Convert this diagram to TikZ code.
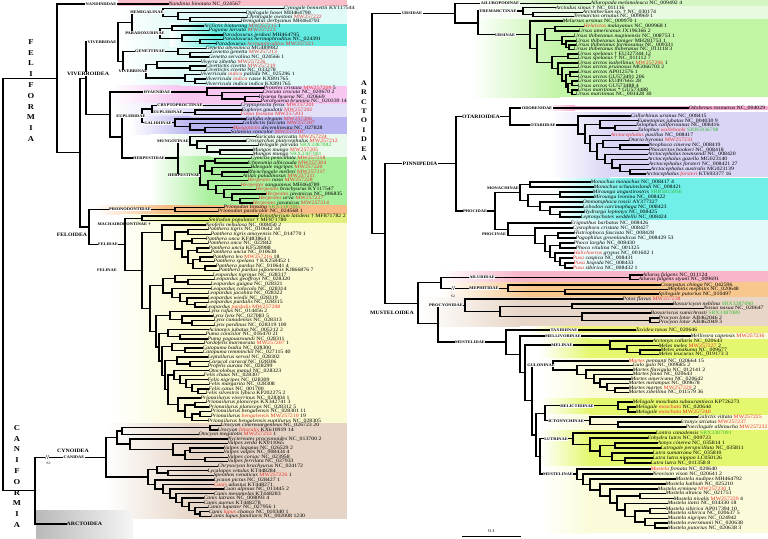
\documentclass[tikz,border=0pt]{standalone}
\usepackage{fontspec}
\setmainfont{Liberation Serif}[FakeStretch=1.14]
\usetikzlibrary{calc}
\definecolor{nandpink}{HTML}{F9BFCB}
\definecolor{vivcyan}{HTML}{DFFAF7}
\definecolor{paracyan}{HTML}{63EAE0}
\definecolor{hyapink}{HTML}{F7C7F2}
\definecolor{euplav}{HTML}{E2E0F8}
\definecolor{galpur}{HTML}{B9B5F0}
\definecolor{mungo}{HTML}{EAFAEA}
\definecolor{herpg}{HTML}{A9F09C}
\definecolor{prion}{HTML}{F6BE86}
\definecolor{mach}{HTML}{E1F07C}
\definecolor{felin}{HTML}{FBFAD3}
\definecolor{canid}{HTML}{E6D5C6}
\definecolor{ailgreen}{HTML}{D4F6C2}
\definecolor{tremg}{HTML}{E9FAE2}
\definecolor{ursg}{HTML}{C2F4A6}
\definecolor{odopink}{HTML}{F2A9CF}
\definecolor{otalav}{HTML}{DAD5F5}
\definecolor{monac}{HTML}{6FEFE7}
\definecolor{phocy}{HTML}{E2FAFA}
\definecolor{ailpink}{HTML}{F8B6C9}
\definecolor{mephor}{HTML}{F8C78E}
\definecolor{procy}{HTML}{E8D7C8}
\definecolor{taxy}{HTML}{EEF27A}
\definecolor{palye}{HTML}{FBFBDA}
\definecolor{yegr}{HTML}{E5F76E}
\definecolor{srxgreen}{HTML}{2EB82E}
\definecolor{redt}{HTML}{E8302A}
\newcommand\tipfont{\fontsize{5.1}{5.1}\selectfont}
\newcommand\cladefont{\bfseries\fontsize{3.9}{3.9}\selectfont}
\newcommand\cbigfont{\bfseries\fontsize{5.1}{5.1}\selectfont}
\newcommand\rdx[1]{\textcolor{redt}{#1}}
\newcommand\grx[1]{\textcolor{srxgreen}{#1}}
\tikzset{
 tp/.style={anchor=west,inner sep=0.3pt,font=\tipfont},
 br/.style={line width=1.3pt,line cap=rect},
 cl/.style={font=\cladefont,fill=white,inner sep=0.5pt},
 clnf/.style={font=\cladefont,inner sep=0.5pt},
 cbig/.style={font=\cbigfont,fill=white,inner sep=0.5pt},
 cbignf/.style={font=\cbigfont,inner sep=0.5pt},
 vlet/.style={font=\bfseries\fontsize{7.5}{10.8}\selectfont,align=center,inner sep=0pt},
}
\newcommand\tipn[4]{\node[tp] (#1) at (#2,#3) {#4};}
\newcommand\jnode[4]{\coordinate (#1m) at ($(#3)!.5!(#4)$);\coordinate (#1) at (#2,0 |- #1m);\draw[br] (#3) -| (#1) |- (#4);\fill (#1) circle (1.2pt);}
\newcommand\band[6]{\shade[left color=white,right color=#6] (#1,#3) rectangle ({#1+#5},#4);\fill[#6] ({#1+#5-0.3},#3) rectangle (#2,#4);}
\newcommand\clab[4][cl]{\node[#1] at (#2,0 |- #3) {#4};}
\begin{document}
\begin{tikzpicture}[x=1pt,y=-1pt]
\useasboundingbox (0,0) rectangle (768,538);
% ---------- backgrounds left
\band{117}{347}{0}{6.2}{1}{nandpink}
\band{120}{347}{6.2}{85.8}{60}{vivcyan}
\band{170}{347}{23.9}{46}{45}{paracyan}
\band{110}{347}{85.8}{103.5}{70}{hyapink}
\band{110}{347}{103.5}{116.7}{70}{euplav}
\band{130}{347}{116.7}{134.4}{60}{galpur}
\band{150}{347}{134.4}{156.5}{50}{mungo}
\band{150}{347}{156.5}{205.1}{60}{herpg}
\band{95}{347}{205.1}{214}{70}{prion}
\band{120}{347}{214}{222.9}{80}{mach}
\band{110}{347}{222.9}{423}{80}{felin}
\band{105}{347}{423}{518.5}{90}{canid}
\shade[left color=gray!55,right color=gray!8] (36,510) rectangle (133,538);
% ---------- backgrounds right
\band{470}{768}{0}{5.6}{90}{ailgreen}
\band{470}{768}{5.6}{19}{90}{tremg}
\band{470}{768}{19}{97}{90}{ursg}
\band{545}{768}{105.6}{110.4}{30}{odopink}
\band{550}{768}{112}{177}{60}{otalav}
\band{555}{768}{178}{220}{70}{monac}
\band{555}{768}{220}{271}{50}{phocy}
\band{440}{768}{271}{282}{80}{ailpink}
\band{440}{768}{282}{297}{90}{mephor}
\band{420}{768}{297}{326}{100}{procy}
\band{530}{768}{326}{333}{40}{taxy}
\band{530}{768}{333}{338.5}{40}{palye}
\band{540}{768}{338.5}{358}{50}{yegr}
\band{540}{768}{358}{398}{50}{palye}
\band{540}{768}{398}{414.5}{50}{yegr}
\band{540}{768}{414.5}{430}{50}{palye}
\band{540}{768}{430}{466}{50}{yegr}
\band{540}{768}{466}{533}{50}{palye}
% ---------- left tips
\tipn{nan}{168}{4}{\textit{Nandinia binotata} NC\_024567}
\tipn{cyn}{283}{8.4}{\textit{Cynogale bennettii} KY117544}
\tipn{dip}{245}{12.8}{\textit{Diplogale hosei} MH464790}
\tipn{chr}{246}{17.3}{\textit{Chrotogale owstoni} \rdx{MW257222}}
\tipn{hem}{240}{21.7}{\textit{Hemigalus derbyanus} MH464793}
\tipn{arc}{203}{26.1}{\textit{Arctictis binturong} \rdx{MW257215} 1}
\tipn{pag}{208}{30.5}{\textit{Paguma larvata} \rdx{MW257223}}
\tipn{pje}{222}{34.9}{\textit{Paradoxurus jerdoni} MH464795}
\tipn{phe}{222}{39.4}{\textit{Paradoxurus hermaphroditus} NC\_024391}
\tipn{phm}{215}{43.8}{\textit{Paradoxurus} \rdx{\textit{hermaphroditus}} \rdx{MW257221}}
\tipn{gab}{205}{48.2}{\textit{Genetta abyssinica} MG489982}
\tipn{gge}{210}{52.6}{\textit{Genetta genetta} \rdx{MW257213}}
\tipn{gse}{208}{57.0}{\textit{Genetta servalina} NC\_024566 1}
\tipn{vzi}{200}{61.5}{\textit{Viverra zibetha} \rdx{MW257226}}
\tipn{cc1}{205}{65.9}{\textit{Civettictis civetta} \rdx{MW257219}}
\tipn{cc2}{205}{70.3}{\textit{Civettictis civetta} NC\_033278}
\tipn{vip}{200}{74.7}{\textit{Viverricula} \rdx{\textit{indica}} \textit{pallida} NC\_025296 1}
\tipn{vir}{205}{79.1}{\textit{Viverricula} \rdx{\textit{indica}} \textit{rasse} KX891765}
\tipn{vii}{205}{83.6}{\textit{Viverricula indica indica} KX891765}
\tipn{pro}{263}{88}{\textit{Proteles cristata} \rdx{MW257209} 5}
\tipn{cro}{262}{92.4}{\textit{Crocuta crocuta} NC\_020670 2}
\tipn{hya}{258}{96.8}{\textit{Hyaena hyaena} NC\_020669}
\tipn{par}{260}{101.2}{\textit{Parahyaena brunnea} NC\_020339 14}
\tipn{cfe}{240}{105.7}{\textit{Cryptoprocta ferox} \rdx{MW257201}}
\tipn{ego}{241}{110.1}{\textit{Eupleres goudotii} \rdx{MW257202}}
\tipn{ffo}{240}{114.5}{\rdx{\textit{Fossa fossana}} \rdx{MW257203}}
\tipn{gel}{245}{118.9}{\textit{Galidia elegans} \rdx{MW257206}}
\tipn{gfa}{242}{123.3}{\textit{Galidictis fasciata} \rdx{MW257207}}
\tipn{mde}{232}{127.8}{\rdx{\textit{Mungotictis}} \textit{decemlineata} NC\_027828}
\tipn{sco}{230}{132.2}{\textit{Salanoia concolor} \rdx{MW257210}}
\tipn{ssu}{255}{136.6}{\textit{Suricata suricatta} \rdx{MW257224}}
\tipn{cpl}{245}{141}{\textit{Crossarchus platycephalus} \rdx{MW257212}}
\tipn{hpa}{257}{145.4}{\textit{Helogale parvula} \grx{SRX3387082}}
\tipn{mm1}{252}{149.9}{\textit{Mungos mungo} \rdx{MW257205}}
\tipn{mm2}{252}{154.3}{\textit{Mungos mungo} \grx{SRX3387081}}
\tipn{h1}{250}{158.7}{\textit{Cynictis penicillata} \rdx{MW257218}}
\tipn{h2}{247}{163.1}{\textit{Ichneumia albicauda} \rdx{MW257204}}
\tipn{h3}{250}{167.5}{\textit{Bdeogale nigripes} \rdx{MW257220}}
\tipn{h4}{247}{172.0}{\textit{Rhynchogale melleri} \rdx{MW257217}}
\tipn{h5}{242}{176.4}{\textit{Atilax paludinosus} \rdx{MW257211}}
\tipn{h6}{247}{180.8}{\rdx{\textit{Herpestes}} \textit{naso} \rdx{MW257228}}
\tipn{h7}{240}{185.2}{\rdx{\textit{Herpestes}} \textit{sanguineus} MH464789}
\tipn{h8}{255}{189.6}{\rdx{\textit{Herpestes}} \textit{brachyurus} KY117547}
\tipn{h9}{265}{194.1}{\rdx{\textit{Herpestes}} \textit{javanicus} NC\_006835}
\tipn{h10}{258}{198.5}{\rdx{\textit{Herpestes}} \textit{urva} \rdx{MW257227}}
\tipn{h11}{252}{202.9}{\rdx{\textit{Herpestes}} \textit{javanicus} \rdx{MW257214}}
\tipn{pli}{223}{207.3}{\textit{Prionodon linsang} \grx{SRX3387085}}
\tipn{ppa}{217}{211.7}{\textit{Prionodon pardicolor} NC\_024568 1}
\tipn{hom}{257}{216.0}{\textit{Homotherium latidens} † MF871782 2}
\tipn{smi}{208}{220.6}{\textit{Smilodon populator} † MF871780}
\tipn{neo}{205}{225.1}{\textit{Neofelis nebulosa} NC\_008450 2}
\tipn{pt1}{207}{229.7}{\textit{Panthera tigris} NC\_010642 34}
\tipn{pt2}{210}{234.2}{\textit{Panthera tigris amoyensis} NC\_014770 1}
\tipn{po1}{205}{238.8}{\textit{Panthera onca} KF483864 1}
\tipn{po2}{207}{243.3}{\textit{Panthera onca} NC\_022842}
\tipn{pu1}{208}{247.9}{\textit{Panthera uncia} KF528988}
\tipn{pu2}{210}{252.4}{\textit{Panthera uncia} NC\_010638}
\tipn{ple}{212}{257.0}{\textit{Panthera leo} \rdx{MW257216} 18}
\tipn{psp}{213}{261.5}{\textit{Panthera spelaea} † KX258452 1}
\tipn{pp1}{215}{266.1}{\textit{Panthera pardus} NC\_010641 4}
\tipn{pp2}{218}{270.6}{\textit{Panthera pardus japonensis} KJ866876 7}
\tipn{lt}{212}{275.2}{\textit{Leopardus tigrinus} NC\_028317}
\tipn{lg}{213}{279.7}{\textit{Leopardus geoffroyi} NC\_028320}
\tipn{lgu}{210}{284.3}{\textit{Leopardus guigna} NC\_028321}
\tipn{lco}{210}{288.8}{\textit{Leopardus colocolo} NC\_028314}
\tipn{lja}{207}{293.4}{\textit{Leopardus jacobita} NC\_028322}
\tipn{lwi}{207}{297.9}{\textit{Leopardus wiedii} NC\_028319}
\tipn{lpa}{207}{302.5}{\textit{Leopardus pardalis} NC\_028315}
\tipn{lpm}{205}{307.0}{\textit{Leopardus} \rdx{\textit{pardalis}} \rdx{MW257208}}
\tipn{lyr}{208}{311.6}{\textit{Lynx rufus} NC\_014456 2}
\tipn{lyl}{212}{316.1}{\textit{Lynx lynx} NC\_027083 5}
\tipn{lyc}{213}{320.7}{\textit{Lynx canadensis} NC\_028313}
\tipn{lyp}{213}{325.2}{\textit{Lynx pardinus} NC\_028319 100}
\tipn{aju}{208}{329.8}{\textit{Acinonyx jubatus} NC\_005212 2}
\tipn{pco}{205}{334.3}{\textit{Puma concolor} NC\_016470 21}
\tipn{pya}{207}{338.9}{\textit{Puma yagouaroundi} NC\_028311}
\tipn{pma}{203}{343.4}{\textit{Pardofelis marmorata} \rdx{MW257207} 1}
\tipn{cba}{202}{348.0}{\textit{Catopuma badia} NC\_028300}
\tipn{cte}{202}{352.5}{\textit{Catopuma temminckii} NC\_027115 40}
\tipn{lse}{207}{357.1}{\textit{Leptailurus serval} NC\_028302}
\tipn{cca}{208}{361.6}{\textit{Caracal caracal} NC\_028306}
\tipn{pau}{207}{366.2}{\textit{Profelis aurata} NC\_028299}
\tipn{oma}{208}{370.7}{\textit{Otocolobus manul} NC\_028323}
\tipn{fch}{203}{375.3}{\textit{Felis chaus} NC\_028307}
\tipn{fni}{207}{379.8}{\textit{Felis nigripes} NC\_028309}
\tipn{fma}{208}{384.4}{\textit{Felis margarita} NC\_028308}
\tipn{fca}{208}{388.9}{\textit{Felis catus} NC\_001700}
\tipn{fsl}{205}{393.5}{\textit{Felis silvestris lybica} KP202275 2}
\tipn{prv}{200}{398.0}{\textit{Prionailurus viverrinus} NC\_028304 1}
\tipn{pr1}{205}{402.6}{\textit{Prionailurus planiceps} KX342741 3}
\tipn{pr2}{208}{407.1}{\textit{Prionailurus planiceps} NC\_028312 5}
\tipn{pr3}{210}{411.7}{\textit{Prionailurus bengalensis} NC\_028301 11}
\tipn{pr4}{210}{416.2}{\textit{Prionailurus} \rdx{\textit{bengalensis}} \rdx{MW257210} 19}
\tipn{pr5}{207}{420.8}{\textit{Prionailurus bengalensis euptilurus} NC\_028305}
\tipn{uc1}{220}{425.3}{\textit{Urocyon cinereoargenteus} NC\_026723 20}
\tipn{uc2}{217}{429.9}{\textit{Urocyon} \rdx{\textit{littoralis}} KX610919 14}
\tipn{omg}{198}{434.4}{\textit{Otocyon megalotis} \rdx{MW257233} 1}
\tipn{npr}{227}{439.0}{\textit{Nyctereutes procyonoides} NC\_013700 2}
\tipn{vze}{227}{443.5}{\textit{Vulpes zerda} KX011065}
\tipn{vla}{223}{448.1}{\textit{Vulpes lagopus} NC\_026529 2}
\tipn{vvu}{223}{452.6}{\textit{Vulpes vulpes} NC\_008434 4}
\tipn{vco}{227}{457.2}{\textit{Vulpes corsac} NC\_023958}
\tipn{vfe}{227}{461.7}{\textit{Vulpes ferrilata} NC\_027933}
\tipn{cbr}{217}{466.3}{\textit{Chrysocyon brachyurus} NC\_024172}
\tipn{lve}{207}{470.8}{\textit{Lycalopex vetulus} KT448284}
\tipn{sve}{213}{475.4}{\textit{Speothos venaticus} \rdx{MW257226} 1}
\tipn{lpi}{213}{479.9}{\textit{Lycaon pictus} NC\_028427 1}
\tipn{cad}{213}{484.5}{\rdx{\textit{Canis}} \textit{adustus} KT448271}
\tipn{cal}{223}{489.0}{\textit{Cuon alpinus} NC\_013445 2}
\tipn{cme}{213}{493.6}{\textit{Canis mesomelas} KT448283}
\tipn{cla}{203}{498.1}{\textit{Canis latrans} NC\_008093 4}
\tipn{cau}{203}{502.7}{\textit{Canis aureus} KT448278}
\tipn{clu}{207}{507.2}{\textit{Canis lupaster} NC\_027956 1}
\tipn{clc}{208}{511.8}{\textit{Canis} \rdx{\textit{lupus}} \textit{chanco} NC\_010340 1}
\tipn{clf}{210}{516.3}{\textit{Canis lupus familiaris} NC\_002008 1230}
\node[anchor=west,font=\cbigfont,inner sep=0.5pt] (arcl) at (66,524) {ARCTOIDEA};
% ---------- left joins
\jnode{HEM2}{190}{chr}{hem}
\jnode{HEM1}{178}{dip}{HEM2}
\jnode{HEM}{163}{cyn}{HEM1}
\jnode{PA1}{172}{arc}{pag}
\jnode{PA3}{200}{phe}{phm}
\jnode{PA2}{182}{pje}{PA3}
\jnode{PAR}{160}{PA1}{PA2}
\jnode{HP}{132}{HEM}{PAR}
\jnode{GEN1}{190}{gge}{gse}
\jnode{GEN}{178}{gab}{GEN1}
\jnode{VV2}{190}{cc1}{cc2}
\jnode{VV1}{157}{vzi}{VV2}
\jnode{VV4}{195}{vir}{vii}
\jnode{VV3}{185}{vip}{VV4}
\jnode{VIV0}{146}{VV1}{VV3}
\jnode{GV}{123}{GEN}{VIV0}
\jnode{VD}{118}{HP}{GV}
\jnode{HY2}{245}{hya}{par}
\jnode{HY1}{222}{cro}{HY2}
\jnode{HY}{207}{pro}{HY1}
\jnode{EUP}{195}{ego}{ffo}
\jnode{EUa}{152}{cfe}{EUP}
\jnode{GA2}{205}{mde}{sco}
\jnode{GA1}{190}{gfa}{GA2}
\jnode{GAL}{175}{gel}{GA1}
\jnode{EU}{142}{EUa}{GAL}
\jnode{MU3}{220}{mm1}{mm2}
\jnode{MU2}{207}{hpa}{MU3}
\jnode{MU1}{197}{cpl}{MU2}
\jnode{MUN}{190}{ssu}{MU1}
\jnode{HRa1}{215}{h1}{h2}
\jnode{HRa3}{222}{h4}{h5}
\jnode{HRa2}{212}{h3}{HRa3}
\jnode{HRa}{205}{HRa1}{HRa2}
\jnode{HRb4}{240}{h10}{h11}
\jnode{HRb3}{232}{h9}{HRb4}
\jnode{HRb2}{224}{h8}{HRb3}
\jnode{HRb1}{216}{h7}{HRb2}
\jnode{HRb}{208}{h6}{HRb1}
\jnode{HER}{200}{HRa}{HRb}
\jnode{HE}{178}{MUN}{HER}
\jnode{C}{122}{EU}{HE}
\jnode{B}{110}{HY}{C}
\jnode{VIV}{86}{VD}{B}
\jnode{PRI}{175}{pli}{ppa}
\jnode{MA}{142}{hom}{smi}
\jnode{PT}{188}{pt1}{pt2}
\jnode{PO}{192}{po1}{po2}
\jnode{PU}{197}{pu1}{pu2}
\jnode{PL}{200}{ple}{psp}
\jnode{PP}{205}{pp1}{pp2}
\jnode{P3}{193}{PL}{PP}
\jnode{P2}{188}{PU}{P3}
\jnode{P1}{182}{PO}{P2}
\jnode{P0}{175}{PT}{P1}
\jnode{PN}{162}{neo}{P0}
\jnode{La1}{188}{lg}{lgu}
\jnode{La}{175}{lt}{La1}
\jnode{Lb3}{195}{lpa}{lpm}
\jnode{Lb2}{187}{lwi}{Lb3}
\jnode{Lb1}{180}{lja}{Lb2}
\jnode{Lb}{172}{lco}{Lb1}
\jnode{LE}{163}{La}{Lb}
\jnode{LY2}{192}{lyc}{lyp}
\jnode{LY1}{182}{lyl}{LY2}
\jnode{LY}{170}{lyr}{LY1}
\jnode{PU1}{180}{pco}{pya}
\jnode{PUm}{168}{aju}{PU1}
\jnode{BC1}{185}{cba}{cte}
\jnode{BC}{172}{pma}{BC1}
\jnode{CA1}{190}{cca}{pau}
\jnode{CA}{177}{lse}{CA1}
\jnode{FF4}{198}{fca}{fsl}
\jnode{FF3}{192}{fma}{FF4}
\jnode{FF2}{186}{fni}{FF3}
\jnode{FF1}{180}{fch}{FF2}
\jnode{FF}{174}{oma}{FF1}
\jnode{PR2}{195}{pr1}{pr2}
\jnode{PR4}{200}{pr3}{pr4}
\jnode{PR3}{192}{PR4}{pr5}
\jnode{PR1}{185}{PR2}{PR3}
\jnode{PR}{178}{prv}{PR1}
\jnode{F6}{168}{FF}{PR}
\jnode{F5}{165}{CA}{F6}
\jnode{F4}{162}{BC}{F5}
\jnode{F3}{159}{PUm}{F4}
\jnode{F2}{156}{LY}{F3}
\jnode{F1}{150}{LE}{F2}
\jnode{FE}{142}{PN}{F1}
\jnode{FD}{125}{MA}{FE}
\jnode{FLD}{89}{PRI}{FD}
\jnode{A}{80}{VIV}{FLD}
\jnode{FEL}{57}{nan}{A}
\jnode{Ur}{210}{uc1}{uc2}
\jnode{Va}{122}{Ur}{omg}
\jnode{VU2}{190}{vla}{vvu}
\jnode{VU3}{205}{vco}{vfe}
\jnode{VU1}{185}{VU2}{VU3}
\jnode{VU}{173}{vze}{VU1}
\jnode{Vb}{130}{npr}{VU}
\jnode{V0}{117}{Va}{Vb}
\jnode{SA1}{168}{lve}{sve}
\jnode{SA}{157}{cbr}{SA1}
\jnode{W7}{200}{clc}{clf}
\jnode{W6}{195}{clu}{W7}
\jnode{W5}{189}{cau}{W6}
\jnode{W4}{182}{cla}{W5}
\jnode{W3}{176}{cme}{W4}
\jnode{W2}{170}{cal}{W3}
\jnode{W1}{163}{cad}{W2}
\jnode{WL}{155}{lpi}{W1}
\jnode{C2}{148}{SA}{WL}
\jnode{CY}{106}{V0}{C2}
\jnode{CA0}{35}{CY}{arcl}
\jnode{root}{3}{FEL}{CA0}
% ---------- right tips
\tipn{aml}{590}{3.5}{\textit{Ailuropoda melanoleuca} NC\_009492 4}
\tipn{asi}{555}{7.8}{\textit{Arctodus simus} † NC\_011116}
\tipn{asp}{582}{12.2}{\textit{Arctotherium} sp. † NC\_030174}
\tipn{tor}{573}{16.6}{\textit{Tremarctos ornatus} NC\_009969 1}
\tipn{mur}{562}{21}{\textit{Melursus ursinus} NC\_009970 1}
\tipn{hma}{583}{26.5}{\rdx{\textit{Helarctos}} \textit{malayanus} NC\_009968 1}
\tipn{uam}{578}{31}{\textit{Ursus americanus} JX196366 2}
\tipn{ut1}{573}{36.5}{\textit{Ursus thibetanus mupinensis} NC\_008753 1}
\tipn{ut2}{575}{41}{\textit{Ursus thibetanus laniger} MH281753 1}
\tipn{ut3}{575}{45}{\textit{Ursus thibetanus formosanus} NC\_009331}
\tipn{ut4}{573}{49.5}{\textit{Ursus thibetanus thibetanus} NC\_011118 3}
\tipn{us1}{577}{54}{\textit{Ursus spelaeus} † EU327344 12}
\tipn{us2}{577}{58.5}{\textit{Ursus spelaeus} † NC\_011112 7}
\tipn{ua1}{577}{63}{\textit{Ursus arctos isabellinus} \rdx{MW257206} 1}
\tipn{ua2}{577}{67.5}{\textit{Ursus arctos pruinosus} MG066703 2}
\tipn{ua3}{577}{72}{\textit{Ursus arctos} AP012576 1}
\tipn{ua4}{577}{76.5}{\textit{Ursus arctos} GU573491 206}
\tipn{ua5}{577}{81}{\textit{Ursus arctos} EU497665 28}
\tipn{ua6}{577}{85.5}{\textit{Ursus arctos} GU573488 4}
\tipn{um1}{577}{90}{\textit{Ursus maritimus} * GU573488}
\tipn{um2}{575}{94.5}{\textit{Ursus maritimus} NC\_003428 30}
\tipn{odo}{688}{108}{\textit{Odobenus rosmarus} NC\_004029}
\tipn{cur}{630}{116.0}{\textit{Callorhinus ursinus} NC\_008415}
\tipn{eju}{637}{120.8}{\textit{Eumetopias jubatus} NC\_004030 9}
\tipn{zca}{635}{125.7}{\textit{Zalophus californianus} NC\_008416}
\tipn{zwo}{637}{130.5}{\textit{Zalophus} \rdx{\textit{wollebaeki}} \grx{SRR5936798}}
\tipn{apu}{610}{135.3}{\rdx{\textit{Arctocephalus}} \textit{pusillus} NC\_008417}
\tipn{oby}{628}{140.2}{\textit{Otaria byronia} \rdx{MW257231}}
\tipn{nci}{648}{145.0}{\textit{Neophoca cinerea} NC\_008419}
\tipn{pho}{648}{149.8}{\textit{Phocarctos hookeri} NC\_008418}
\tipn{ato}{647}{154.6}{\textit{Arctocephalus townsendi} NC\_008420}
\tipn{aga}{647}{159.5}{\textit{Arctocephalus gazella} MG023140}
\tipn{afo}{648}{164.3}{\textit{Arctocephalus forsteri} NC\_008421 27}
\tipn{aau}{650}{169.2}{\textit{Arctocephalus australis} MG023139}
\tipn{afk}{645}{174.0}{\textit{Arctocephalus} \rdx{\textit{forsteri}} KT693377 16}
\tipn{mmo}{590}{182}{\textit{Monachus monachus} NC\_008417 4}
\tipn{msc}{593}{187}{\textit{Monachus schauinslandi} NC\_008421}
\tipn{man}{592}{192}{\textit{Mirounga angustirostris} \grx{SRR5815956}}
\tipn{mle}{593}{197}{\textit{Mirounga leonina} NC\_008422}
\tipn{oro}{582}{202}{\textit{Ommatophoca rossii} AY377327}
\tipn{lca}{582}{207}{\textit{Lobodon carcinophaga} NC\_008423}
\tipn{hle}{583}{212}{\textit{Hydrurga leptonyx} NC\_008425}
\tipn{lwe}{580}{217}{\textit{Leptonychotes weddellii} NC\_008424}
\tipn{eba}{570}{223}{\textit{Erignathus barbatus} NC\_008426}
\tipn{cyc}{572}{228}{\textit{Cystophora cristata} NC\_008427}
\tipn{hfa}{573}{233}{\textit{Histriophoca fasciata} NC\_008428}
\tipn{pgr}{575}{238}{\textit{Pagophilus groenlandicus} NC\_008429 53}
\tipn{pla}{573}{243}{\textit{Phoca largha} NC\_008430}
\tipn{pvi}{575}{248}{\textit{Phoca vitulina} NC\_001325}
\tipn{hgr}{573}{253}{\rdx{\textit{Halichoerus}} \textit{grypus} NC\_001602 1}
\tipn{pca}{572}{258}{\rdx{\textit{Pusa}} \textit{caspica} NC\_008431}
\tipn{phi}{573}{263}{\rdx{\textit{Pusa}} \textit{hispida} NC\_008433}
\tipn{psi}{572}{268}{\rdx{\textit{Pusa}} \textit{sibirica} NC\_008432 1}
\tipn{af1}{642}{275}{\textit{Ailurus fulgens} NC\_011124}
\tipn{af2}{638}{279.5}{\textit{Ailurus fulgens styani} NC\_009691}
\tipn{cch}{660}{285}{\textit{Conepatus chinga} NC\_042596}
\tipn{mme}{667}{289.5}{\textit{Mephitis mephitis} NC\_020648}
\tipn{spu}{658}{294}{\textit{Spilogale putorius} NC\_010497}
\tipn{pfl}{622}{299}{\textit{Potos flavus} \rdx{MW257238}}
\tipn{bne}{672}{304}{\textit{Bassaricyon neblina} \grx{SRX3387090}}
\tipn{nna}{703}{308.5}{\textit{Nasua nasua} NC\_020647}
\tipn{bsu}{650}{313}{\textit{Bassariscus sumichrasti} \grx{SRX3387089}}
\tipn{pl1}{658}{318}{\textit{Procyon lotor} AB462046 2}
\tipn{pl2}{658}{322.5}{\textit{Procyon lotor} AB462049 3}
\tipn{tta}{635}{330}{\textit{Taxidea taxus} NC\_020646}
\tipn{mca}{690}{336}{\textit{Mellivora capensis} \rdx{MW257236}}
\tipn{aco}{652}{341}{\textit{Arctonyx collaris} NC\_020643}
\tipn{mem}{658}{345.5}{\textit{Meles meles} \rdx{MW257227} 2}
\tipn{man2}{660}{350}{\textit{Meles anakuma} NC\_009677}
\tipn{mlc}{658}{354.5}{\textit{Meles leucurus} NC\_019173 3}
\tipn{mpe}{628}{361}{\rdx{\textit{Martes}} \textit{pennanti} NC\_020664 15}
\tipn{ggu}{632}{365.5}{\textit{Gulo gulo} NC\_009685 2}
\tipn{mfl}{632}{370}{\textit{Martes flavigula} NC\_012141 2}
\tipn{mfo}{632}{374.5}{\textit{Martes foina} NC\_020643}
\tipn{mam}{630}{379}{\textit{Martes americana} NC\_020642}
\tipn{mml}{628}{383.5}{\textit{Martes melampus} NC\_009678}
\tipn{mma}{628}{388}{\textit{Martes martes} \rdx{MW257229} 2}
\tipn{mzi}{628}{392.5}{\textit{Martes zibellina} NC\_011579 36}
\tipn{mg1}{632}{402}{\textit{Melogale moschata subaurantiaca} KP726273}
\tipn{mg2}{635}{407}{\textit{Melogale} \rdx{\textit{moschata}} NC\_020644}
\tipn{mg3}{635}{412}{\textit{Melogale} \rdx{\textit{moschata}} \rdx{MW257240}}
\tipn{gvi}{697}{417}{\textit{Galictis vittata} \rdx{MW257225}}
\tipn{ist}{680}{422}{\textit{Ictonyx striatus} \rdx{MW257237}}
\tipn{pal}{685}{427}{\textit{Poecilogale albinucha} \rdx{MW257232}}
\tipn{lcn}{655}{433}{\textit{Lontra canadensis} \grx{SRX3387091}}
\tipn{elu}{647}{438}{\textit{Enhydra lutris} NC\_009723}
\tipn{aci}{657}{443}{\textit{Aonyx cinerea} NC\_035814 1}
\tipn{lpe}{660}{448}{\textit{Lutrogale perspicillata} NC\_035811}
\tipn{lsu}{652}{453}{\textit{Lutra sumatrana} NC\_035810}
\tipn{lln}{652}{458}{\textit{Lutra lutra nippon} LC050126}
\tipn{llu}{650}{463}{\textit{Lutra lutra} NC\_011358 8}
\tipn{mfr}{650}{469}{\rdx{\textit{Mustela}} \textit{frenata} NC\_020640}
\tipn{nvi}{652}{474}{\textit{Neovison vison} NC\_020641 2}
\tipn{mnu}{675}{479}{\textit{Mustela nudipes} MH464792}
\tipn{mka}{665}{484}{\textit{Mustela kathiah} NC\_025210}
\tipn{mer}{657}{489}{\textit{Mustela erminea} \rdx{MW257230} 1}
\tipn{mal}{665}{493.5}{\textit{Mustela altaica} NC\_021751}
\tipn{mni}{673}{498.5}{\textit{Mustela nivalis} \rdx{MW257229} 4}
\tipn{mit}{667}{503.5}{\textit{Mustela itatsi} NC\_034330 18}
\tipn{ms1}{665}{508.5}{\textit{Mustela sibirica} AP017394 10}
\tipn{ms2}{667}{513.5}{\textit{Mustela sibirica} NC\_020637 5}
\tipn{mng}{667}{518.5}{\textit{Mustela nigripes} NC\_024942}
\tipn{mev}{667}{523}{\textit{Mustela eversmanii} NC\_020638}
\tipn{mpu}{667}{528}{\textit{Mustela putorius} NC\_020638 3}
% ---------- right joins
\jnode{TR1}{533}{asp}{tor}
\jnode{TRE}{523}{asi}{TR1}
\jnode{HA}{555}{hma}{uam}
\jnode{TH2}{569}{ut3}{ut4}
\jnode{TH1}{566}{ut2}{TH2}
\jnode{TH}{562}{ut1}{TH1}
\jnode{U2}{545}{HA}{TH}
\jnode{SP}{568}{us1}{us2}
\jnode{AR3}{570}{ua3}{ua4}
\jnode{AR5}{572}{ua5}{ua6}
\jnode{MAR}{572}{um1}{um2}
\jnode{AR4}{568}{AR5}{MAR}
\jnode{AR2}{566}{AR3}{AR4}
\jnode{AR1}{562}{ua2}{AR2}
\jnode{ARC}{558}{ua1}{AR1}
\jnode{U5}{552}{SP}{ARC}
\jnode{U1}{537}{U2}{U5}
\jnode{URI}{530}{mur}{U1}
\jnode{UR1}{478}{TRE}{URI}
\jnode{URS}{455}{aml}{UR1}
\jnode{OT11}{630}{aau}{afk}
\jnode{OT10}{620}{afo}{OT11}
\jnode{OT9}{612}{aga}{OT10}
\jnode{OT8}{605}{ato}{OT9}
\jnode{OT7}{620}{nci}{pho}
\jnode{OT6}{603}{oby}{OT7}
\jnode{OT5}{597}{OT6}{OT8}
\jnode{OT4}{590}{apu}{OT5}
\jnode{OT3}{615}{zca}{zwo}
\jnode{OT2}{600}{eju}{OT3}
\jnode{OT1}{585}{OT2}{OT4}
\jnode{OT}{578}{cur}{OT1}
\jnode{OA}{510}{odo}{OT}
\jnode{MO1}{530}{mmo}{msc}
\jnode{MO3}{560}{man}{mle}
\jnode{MO6}{560}{hle}{lwe}
\jnode{MO5}{550}{lca}{MO6}
\jnode{MO4}{540}{oro}{MO5}
\jnode{MO2}{528}{MO3}{MO4}
\jnode{MO}{520}{MO1}{MO2}
\jnode{PH3}{558}{hfa}{pgr}
\jnode{PH5}{560}{pla}{pvi}
\jnode{PH8}{565}{phi}{psi}
\jnode{PH7}{560}{pca}{PH8}
\jnode{PH6}{555}{hgr}{PH7}
\jnode{PH4}{550}{PH5}{PH6}
\jnode{PH2}{545}{PH3}{PH4}
\jnode{PH1}{535}{cyc}{PH2}
\jnode{PH}{508}{eba}{PH1}
\jnode{PD}{495}{MO}{PH}
\jnode{PI}{456}{OA}{PD}
\jnode{AIL}{630}{af1}{af2}
\jnode{MEP1}{565}{mme}{spu}
\jnode{MEP}{508}{cch}{MEP1}
\jnode{AM}{441}{AIL}{MEP}
\jnode{PC2}{572}{bne}{nna}
\jnode{PC4}{650}{pl1}{pl2}
\jnode{PC3}{582}{bsu}{PC4}
\jnode{PC1}{500}{PC2}{PC3}
\jnode{PRO}{465}{pfl}{PC1}
\jnode{MEL2}{640}{man2}{mlc}
\jnode{MEL1}{627}{mem}{MEL2}
\jnode{MEL}{610}{aco}{MEL1}
\jnode{G6}{615}{mma}{mzi}
\jnode{G5}{607}{mml}{G6}
\jnode{G4}{600}{mam}{G5}
\jnode{G3}{594}{mfo}{G4}
\jnode{G2}{586}{mfl}{G3}
\jnode{G1}{577}{ggu}{G2}
\jnode{GUL}{553}{mpe}{G1}
\jnode{HEL1}{628}{mg2}{mg3}
\jnode{HEL}{618}{mg1}{HEL1}
\jnode{ICT1}{618}{ist}{pal}
\jnode{ICT}{590}{gvi}{ICT1}
\jnode{M5}{545}{HEL}{ICT}
\jnode{LU3}{615}{aci}{lpe}
\jnode{LU5}{625}{lln}{llu}
\jnode{LU4}{612}{lsu}{LU5}
\jnode{LU2}{600}{LU3}{LU4}
\jnode{LU1}{590}{elu}{LU2}
\jnode{LUT}{573}{lcn}{LU1}
\jnode{MS11}{655}{mev}{mpu}
\jnode{MS10}{645}{mng}{MS11}
\jnode{MS9}{650}{ms1}{ms2}
\jnode{MS8}{635}{MS9}{MS10}
\jnode{MS7}{625}{mit}{MS8}
\jnode{MS6}{640}{mal}{mni}
\jnode{MS5}{617}{MS6}{MS7}
\jnode{MS4}{610}{mer}{MS5}
\jnode{MS3}{600}{mka}{MS4}
\jnode{MS2}{590}{mnu}{MS3}
\jnode{MS1}{583}{nvi}{MS2}
\jnode{MST}{577}{mfr}{MS1}
\jnode{M6}{540}{LUT}{MST}
\jnode{M4}{536}{M5}{M6}
\jnode{M3}{532}{GUL}{M4}
\jnode{M2}{525}{MEL}{M3}
\jnode{M1}{520}{mca}{M2}
\jnode{MU0}{506}{tta}{M1}
\jnode{PM}{438}{PRO}{MU0}
\jnode{MS}{418}{AM}{PM}
\jnode{CP}{385}{PI}{MS}
\jnode{AR0}{372}{URS}{CP}
% ---------- clade labels left
\clab{101}{nan}{NANDINIIDAE}
\clab[cbig,yshift=4.5pt]{88}{VIV}{VIVERROIDEA}
\clab{102}{VD}{VIVERRIDAE}
\clab{147}{HEM}{HEMIGALINAE}
\clab{145}{PAR}{PARADOXURINAE}
\clab{150}{GEN}{GENETTINAE}
\clab{133}{VIV0}{VIVERRINAE}
\clab{157}{HY}{HYAENIDAE}
\clab{131}{EU}{EUPLERIDAE}
\clab{180}{cfe}{CRYPTOPROCTINAE}
\clab{168}{EUP}{EUPLERINAE}
\clab{158}{GAL}{GALIDIINAE}
\clab{149}{HE}{HERPESTIDAE}
\clab{173}{MUN}{MUNGOTINAE}
\clab{184}{HER}{HERPESTINAE}
\clab{130}{PRI}{PRIONODONTIDAE}
\clab[cbignf,yshift=-8pt]{72}{FLD}{FELOIDEA}
\clab{108}{FD}{FELIDAE}
\clab[clnf,yshift=-6pt]{124}{MA}{MACHAIRODONTINAE †}
\clab[clnf]{107}{FE}{FELINAE}
\clab[cbignf,yshift=6pt]{73}{CY}{CYNOIDEA}
\clab{74}{CY}{CANIDAE}
\node[font=\bfseries\fontsize{6}{6}\selectfont,fill=white,inner sep=0.3pt] (brk1) at (47,0 |- CY) {//};
\node[font=\fontsize{3.5}{3.5}\selectfont,inner sep=0pt] (s2a) at (48.5,463) {S2};
% ---------- clade labels right
\clab{412}{URS}{URSIDAE}
\clab{500}{aml}{AILUROPODINAE}
\clab{498}{TRE}{TREMARCTINAE}
\clab{505}{URI}{URSINAE}
\clab[cbig]{420}{PI}{PINNIPEDIA}
\clab[cbig]{481}{OA}{OTARIOIDEA}
\clab{537}{odo}{ODOBENIDAE}
\clab{543}{OT}{OTARIIDAE}
\clab{475}{PD}{PHOCIDAE}
\clab[clnf,yshift=4.5pt]{503}{MO}{MONACHINAE}
\clab[clnf,yshift=-5pt]{494}{PH}{PHOCINAE}
\clab[cbignf,yshift=-10pt]{392}{MS}{MUSTELOIDEA}
\clab{482}{AIL}{AILURIDAE}
\clab{484}{MEP}{MEPHITIDAE}
\node[font=\bfseries\fontsize{6}{6}\selectfont,fill=white,inner sep=0.3pt] (brk2) at (453,0 |- MEP) {//};
\node[font=\fontsize{3.5}{3.5}\selectfont,inner sep=0pt] (s2b) at (453,296) {S2};
\clab{446}{PRO}{PROCYONIDAE}
\clab{470}{MU0}{MUSTELIDAE}
\clab{564}{tta}{TAXIDIINAE}
\clab{563}{mca}{MELLIVORINAE}
\clab{562}{MEL}{MELINAE}
\clab{541}{GUL}{GULONINAE}
\clab{577}{HEL}{HELICTIDINAE}
\clab{566}{ICT}{ICTONYCHINAE}
\clab{556}{LUT}{LUTRINAE}
\clab{558}{MST}{MUSTELINAE}
% ---------- big vertical labels
\node[vlet] (felif) at (31,90.5) {F\\E\\L\\I\\F\\O\\R\\M\\I\\A};
\node[vlet] (canif) at (17,476.5) {C\\A\\N\\I\\F\\O\\R\\M\\I\\A};
\node[font=\bfseries\fontsize{7}{9.4}\selectfont,align=center,inner sep=0pt] (arctv) at (364,120.5) {A\\R\\C\\T\\O\\I\\D\\E\\A};
% ---------- scale bar
\coordinate (sb1) at (462,536);
\coordinate (sb2) at (521,536);
\draw[line width=0.8pt] (sb1) -- (sb2);
\node[font=\fontsize{4.5}{4.5}\selectfont,inner sep=0pt] (sbl) at (491.5,531) {0.1};
\end{tikzpicture}
\end{document}
